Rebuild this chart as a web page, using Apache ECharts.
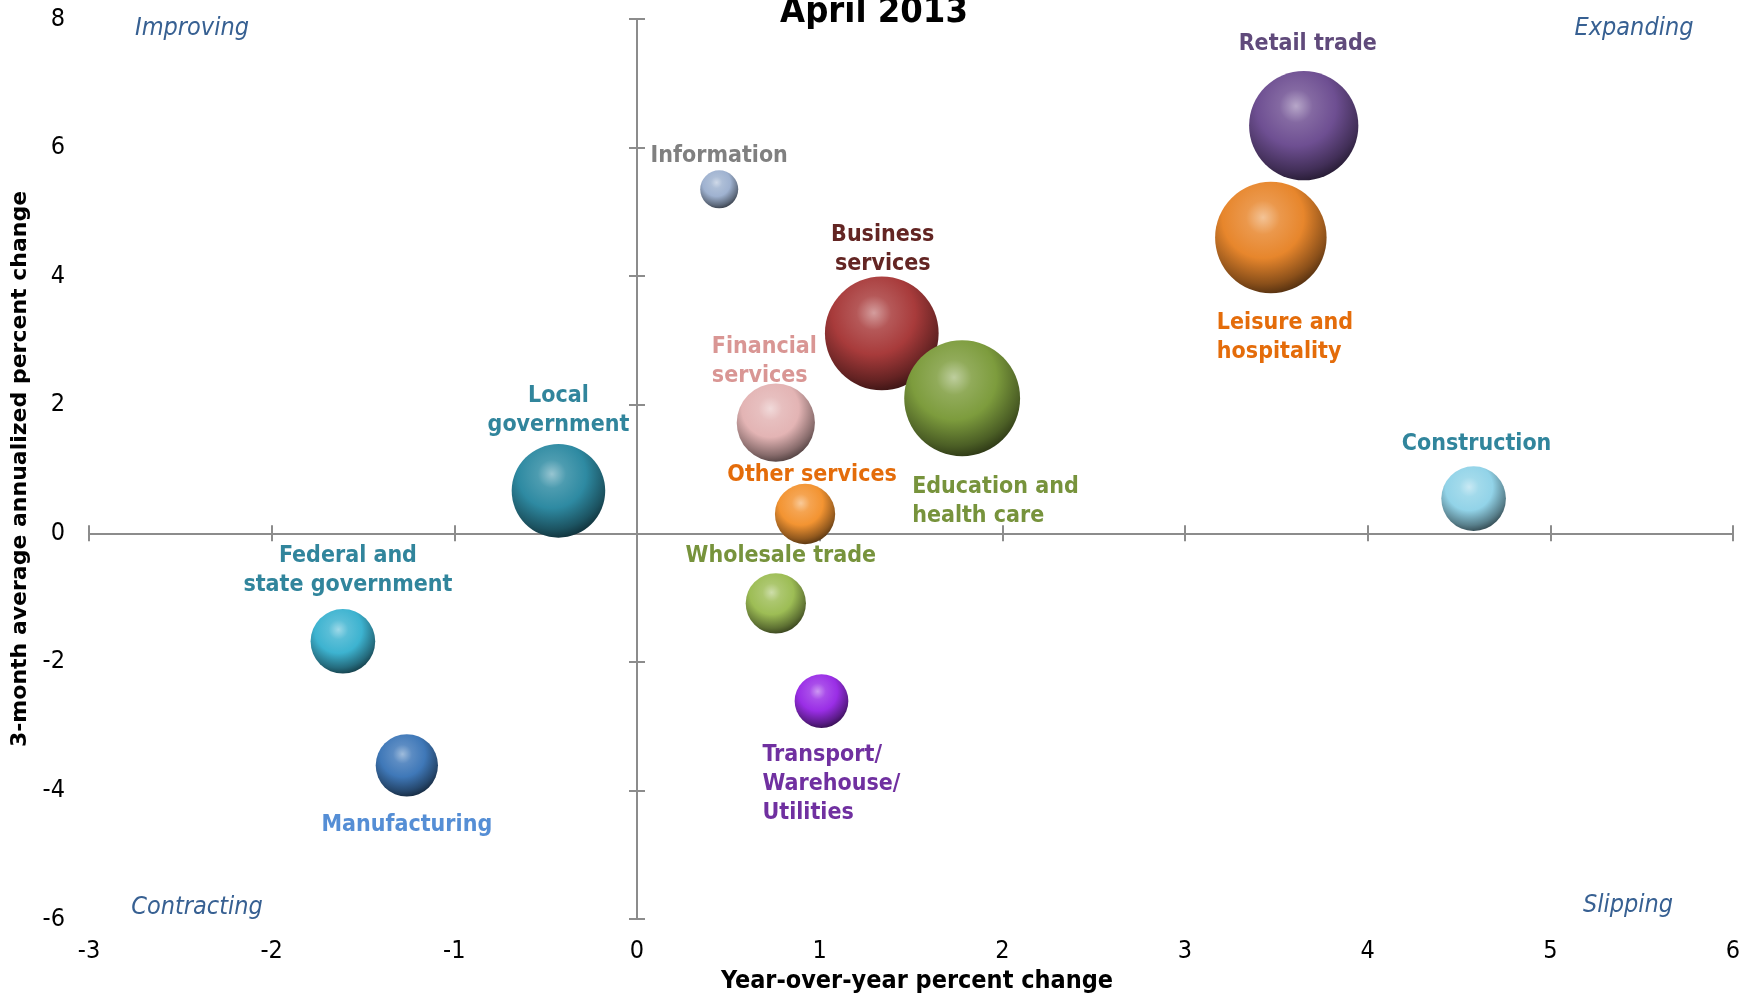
<!DOCTYPE html>
<html><head><meta charset="utf-8">
<script src="https://cdn.jsdelivr.net/npm/echarts@6/dist/echarts.min.js"></script>
<style>html,body{margin:0;padding:0;background:#fff}#c{width:1749px;height:996px}</style>
</head><body><div id="c"></div>
<script>
// ---- data ----
const sectors = ['Information','Retail trade','Leisure and hospitality','Business services','Financial services','Education and health care','Local government','Other services','Construction','Wholesale trade','Federal and state government','Transport/Warehouse/Utilities','Manufacturing'];
const yoyChange = [0.45, 3.65, 3.47, 1.34, 0.76, 1.78, -0.43, 0.92, 4.58, 0.76, -1.61, 1.01, -1.26];
const avg3mChange = [5.35, 6.34, 4.60, 3.11, 1.72, 2.10, 0.66, 0.30, 0.54, -1.09, -1.68, -2.61, -3.61];
const bubbleWeight = [2.9, 24, 25, 26, 12.3, 27, 17.6, 7.3, 8.4, 7.3, 8.4, 5.8, 7.8];
const xTicks = [-3,-2,-1,0,1,2,3,4,5,6];
const yTicks = [-6,-4,-2,0,2,4,6,8];
const quadrants = ['Improving','Expanding','Contracting','Slipping'];
const chartTitle = 'April 2013';
const xTitle = 'Year-over-year percent change';
const yTitle = '3-month average annualized percent change';

// ---- styles ----
const FONT = "'Liberation Sans Narrow','DejaVu Sans Condensed','Liberation Sans',sans-serif";
const styles = {
  'Information': {c:'#9fb2d0', lc:'#808080', txt:'Information', pos:'top', d:0},
  'Retail trade': {c:'#6e4f92', lc:'#604a7b', txt:'Retail trade', pos:'top', d:13, dx:4},
  'Leisure and hospitality': {c:'#e7862c', lc:'#e46c0a', txt:'Leisure and\nhospitality', pos:'bottom', d:15, al:'left', dx:-54},
  'Business services': {c:'#a83b3b', lc:'#632523', txt:'Business\nservices', pos:'top', d:-2, dx:1},
  'Financial services': {c:'#e3b4b4', lc:'#d99694', txt:'Financial\nservices', pos:'top', d:-7, al:'left', dx:-64},
  'Education and health care': {c:'#7d9c3d', lc:'#77933c', txt:'Education and\nhealth care', pos:'bottom', d:16, al:'left', dx:-50},
  'Local government': {c:'#2e8aa2', lc:'#31859c', txt:'Local\ngovernment', pos:'top', d:5},
  'Other services': {c:'#f39432', lc:'#e46c0a', txt:'Other services', pos:'top', d:-6, dx:7},
  'Construction': {c:'#92d3e8', lc:'#31859c', txt:'Construction', pos:'top', d:8, dx:3},
  'Wholesale trade': {c:'#9dbd55', lc:'#77933c', txt:'Wholesale trade', pos:'top', d:3, dx:5},
  'Federal and state government': {c:'#3db3d0', lc:'#31859c', txt:'Federal and\nstate government', pos:'top', d:9, dx:5},
  'Transport/Warehouse/Utilities': {c:'#9a2ee6', lc:'#7030a0', txt:'Transport/\nWarehouse/\nUtilities', pos:'bottom', d:13, al:'left', dx:-59},
  'Manufacturing': {c:'#3f78b8', lc:'#558ed5', txt:'Manufacturing', pos:'bottom', d:14}
};
function hex2rgb(h){h=h.replace('#','');return [0,2,4].map(i=>parseInt(h.substr(i,2),16));}
function mix(h,t,a){const c=hex2rgb(h);return 'rgb('+c.map(v=>Math.round(v+(t-v)*a)).join(',')+')';}
function sphere(h){
  return {type:'radial', x:0.43, y:0.32, r:0.76, colorStops:[
    {offset:0, color:mix(h,255,0.5)},
    {offset:0.2, color:mix(h,255,0.15)},
    {offset:0.48, color:h},
    {offset:0.78, color:mix(h,0,0.4)},
    {offset:1, color:mix(h,0,0.78)}]};
}
const axisGray = '#8c8c8c';

const data = sectors.map((n,i)=>{
  const s = styles[n];
  return {
    name:n, value:[yoyChange[i], avg3mChange[i], bubbleWeight[i]],
    itemStyle:{color:sphere(s.c), opacity:1},
    label:{show:true, formatter:s.txt, position:s.pos, distance:s.d, color:s.lc,
      align:s.al||'center', offset:[s.dx||0,0], fontFamily:FONT, fontWeight:'bold', fontSize:23, lineHeight:29}
  };
});

const chart = echarts.init(document.getElementById('c'));
const lineAx = (dim, inside) => ({
  type:'value', min: dim==='x'?-3:-6, max: dim==='x'?6:8, interval: dim==='x'?1:2,
  position: dim==='x'?'bottom':'left',
  axisLine:{show:true, onZero:true, lineStyle:{color: inside?'rgba(0,0,0,0)':axisGray, width:2}},
  axisTick:{show:true, inside:inside, length:8, lineStyle:{color:axisGray, width:2}},
  axisLabel:{show:false}, splitLine:{show:false}
});
chart.setOption({
  animation:false,
  grid:{left:89, right:16, top:19, bottom:77, containLabel:false, outerBoundsMode:'none'},
  xAxis:[lineAx('x',false), lineAx('x',true), {
    type:'value', min:-3, max:6, interval:1, position:'bottom',
    axisLine:{show:false, onZero:false}, axisTick:{show:false}, splitLine:{show:false},
    axisLabel:{show:true, margin:20, color:'#000', fontFamily:FONT, fontSize:25,
      formatter:v=>xTicks.includes(v)?String(v):''},
    name:xTitle, nameLocation:'middle', nameGap:50,
    nameTextStyle:{fontFamily:FONT, fontWeight:'bold', fontSize:25, color:'#000', padding:[0,0,0,12]}
  }],
  yAxis:[lineAx('y',false), lineAx('y',true), {
    type:'value', min:-6, max:8, interval:2, position:'left',
    axisLine:{show:false, onZero:false}, axisTick:{show:false}, splitLine:{show:false},
    axisLabel:{show:true, margin:24, color:'#000', fontFamily:FONT, fontSize:25,
      formatter:v=>yTicks.includes(v)?String(v):''},
    name:yTitle, nameLocation:'middle', nameGap:57,
    nameTextStyle:{fontFamily:"'DejaVu Sans',Verdana,sans-serif", fontWeight:'bold', fontSize:22, color:'#000'}
  }],
  graphic:[
    {type:'text', style:{x:874, y:13, text:chartTitle, textAlign:'center', textVerticalAlign:'middle', fontFamily:FONT, fontWeight:'bold', fontSize:36, fill:'#000'}},
    {type:'text', style:{x:192, y:28, text:quadrants[0], textAlign:'center', textVerticalAlign:'middle', fontFamily:FONT, fontStyle:'italic', fontSize:25, fill:'#376092'}},
    {type:'text', style:{x:1634, y:28, text:quadrants[1], textAlign:'center', textVerticalAlign:'middle', fontFamily:FONT, fontStyle:'italic', fontSize:25, fill:'#376092'}},
    {type:'text', style:{x:197, y:907, text:quadrants[2], textAlign:'center', textVerticalAlign:'middle', fontFamily:FONT, fontStyle:'italic', fontSize:25, fill:'#376092'}},
    {type:'text', style:{x:1628, y:905, text:quadrants[3], textAlign:'center', textVerticalAlign:'middle', fontFamily:FONT, fontStyle:'italic', fontSize:25, fill:'#376092'}}
  ],
  series:[{
    type:'scatter', xAxisIndex:0, yAxisIndex:0,
    symbolSize: v => 22.3*Math.sqrt(v[2]),
    itemStyle:{opacity:1},
    data:data,
    emphasis:{disabled:true}
  }]
});
</script></body></html>
